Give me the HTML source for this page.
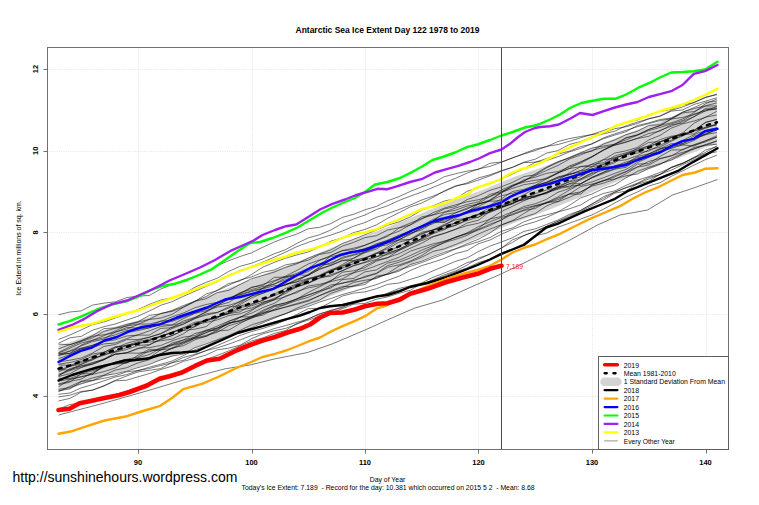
<!DOCTYPE html><html><head><meta charset="utf-8"><title>Antarctic Sea Ice Extent</title>
<style>html,body{margin:0;padding:0;background:#fff}svg{display:block}text{font-family:"Liberation Sans",sans-serif;fill:#000}</style></head><body>
<svg width="759" height="505" viewBox="0 0 759 505">
<rect width="100%" height="100%" fill="#fff"/>
<polygon points="58.5,345.4 69.9,342.3 81.2,338.2 92.6,334.2 104.0,330.3 115.3,326.7 126.7,323.5 138.0,320.4 149.3,317.0 160.7,313.4 172.1,309.7 183.4,305.7 194.8,301.3 206.1,296.8 217.4,292.2 228.8,287.9 240.1,283.7 251.5,279.3 262.9,274.8 274.2,270.6 285.5,266.4 296.9,262.0 308.2,257.5 319.6,253.0 330.9,248.1 342.3,243.6 353.6,239.5 365.0,235.4 376.4,231.3 387.7,227.1 399.1,222.6 410.4,218.0 421.8,213.2 433.1,208.4 444.4,203.7 455.8,199.5 467.1,195.6 478.5,191.4 489.8,186.9 501.2,182.2 512.5,177.6 523.9,173.6 535.2,169.8 546.6,165.7 558.0,161.3 569.3,157.0 580.6,152.5 592.0,147.8 603.3,143.0 614.7,138.4 626.0,134.1 637.4,129.7 648.8,125.6 660.1,121.5 671.4,117.0 682.8,112.8 694.1,108.5 705.5,103.7 716.9,100.5 716.9,144.1 705.5,147.4 694.1,152.2 682.8,156.5 671.4,160.7 660.1,165.3 648.8,169.4 637.4,173.6 626.0,178.0 614.7,182.4 603.3,187.0 592.0,192.0 580.6,196.9 569.3,201.6 558.0,206.2 546.6,210.7 535.2,215.1 523.9,219.2 512.5,223.4 501.2,228.1 489.8,233.1 478.5,237.8 467.1,242.2 455.8,246.4 444.4,250.8 433.1,255.6 421.8,260.4 410.4,265.3 399.1,269.9 387.7,274.5 376.4,278.8 365.0,283.0 353.6,287.2 342.3,291.4 330.9,296.0 319.6,300.9 308.2,305.5 296.9,309.8 285.5,314.2 274.2,318.3 262.9,322.4 251.5,326.8 240.1,331.1 228.8,335.2 217.4,339.4 206.1,343.8 194.8,348.3 183.4,352.6 172.1,356.5 160.7,360.2 149.3,363.8 138.0,367.1 126.7,370.2 115.3,373.3 104.0,376.9 92.6,380.8 81.2,384.7 69.9,388.8 58.5,391.8" fill="#d3d3d3" stroke="none"/>
<path d="M138.5 47.5V449.5 M252.5 47.5V449.5 M365.5 47.5V449.5 M478.5 47.5V449.5 M592.5 47.5V449.5 M706.5 47.5V449.5 M47.5 396.5H728.5 M47.5 314.5H728.5 M47.5 232.5H728.5 M47.5 151.5H728.5 M47.5 69.5H728.5" stroke="#d3d3d3" stroke-opacity="0.6" stroke-width="1" stroke-dasharray="1 1.3" fill="none"/>
<g fill="none" stroke="#000" stroke-opacity="0.75" stroke-width="0.7" stroke-linejoin="round">
<polyline points="58.5,314.8 69.9,312.0 81.2,310.9 92.6,305.1 104.0,303.1 115.3,301.8 126.7,297.6 138.0,296.1 149.3,295.5 160.7,289.1 172.1,284.6 183.4,280.4 194.8,276.3 206.1,271.9 217.4,265.7 228.8,260.7 240.1,256.5 251.5,252.8 262.9,247.2 274.2,242.0 285.5,237.7 296.9,234.1 308.2,228.8 319.6,227.3 330.9,223.6 342.3,217.4 353.6,214.3 365.0,209.8 376.4,206.4 387.7,200.7 399.1,196.6 410.4,191.4 421.8,186.8 433.1,182.7 444.4,176.7 455.8,173.7 467.1,171.1 478.5,169.4 489.8,163.3 501.2,162.0 512.5,157.8 523.9,154.0 535.2,150.5 546.6,146.4 558.0,144.5 569.3,141.3 580.6,137.8 592.0,134.4 603.3,130.6 614.7,126.6 626.0,122.3 637.4,120.0 648.8,114.8 660.1,111.5 671.4,109.4 682.8,105.0 694.1,102.6 705.5,97.5 716.9,94.1"/>
<polyline points="58.5,339.5 69.9,335.0 81.2,329.9 92.6,324.6 104.0,321.9 115.3,318.0 126.7,313.6 138.0,309.6 149.3,304.4 160.7,300.1 172.1,297.7 183.4,294.2 194.8,287.3 206.1,282.4 217.4,278.1 228.8,271.4 240.1,266.3 251.5,263.2 262.9,258.9 274.2,253.8 285.5,249.7 296.9,243.4 308.2,237.9 319.6,234.7 330.9,230.0 342.3,223.4 353.6,219.0 365.0,215.0 376.4,209.6 387.7,205.7 399.1,200.5 410.4,196.1 421.8,192.0 433.1,187.3 444.4,182.7 455.8,178.2 467.1,173.1 478.5,168.9 489.8,166.4 501.2,162.4 512.5,158.0 523.9,153.5 535.2,149.2 546.6,146.6 558.0,141.5 569.3,138.6 580.6,136.5 592.0,134.6 603.3,133.0 614.7,128.7 626.0,126.8 637.4,123.5 648.8,118.7 660.1,116.0 671.4,110.3 682.8,107.0 694.1,102.3 705.5,97.3 716.9,94.7"/>
<polyline points="58.5,343.3 69.9,337.8 81.2,336.4 92.6,330.2 104.0,326.7 115.3,324.0 126.7,320.1 138.0,316.2 149.3,311.0 160.7,305.3 172.1,301.7 183.4,296.3 194.8,291.3 206.1,286.4 217.4,281.7 228.8,275.6 240.1,270.5 251.5,266.7 262.9,262.0 274.2,257.2 285.5,252.1 296.9,246.6 308.2,242.4 319.6,238.5 330.9,235.0 342.3,231.1 353.6,226.2 365.0,222.5 376.4,217.3 387.7,213.7 399.1,209.5 410.4,205.0 421.8,200.0 433.1,196.1 444.4,191.4 455.8,186.3 467.1,182.9 478.5,177.9 489.8,174.9 501.2,170.7 512.5,167.3 523.9,162.2 535.2,159.2 546.6,153.1 558.0,150.6 569.3,144.5 580.6,141.5 592.0,137.0 603.3,133.9 614.7,131.2 626.0,125.8 637.4,122.1 648.8,118.9 660.1,116.2 671.4,111.1 682.8,109.9 694.1,104.4 705.5,101.2 716.9,97.7"/>
<polyline points="58.5,348.8 69.9,344.7 81.2,340.6 92.6,335.6 104.0,328.6 115.3,327.9 126.7,324.4 138.0,321.8 149.3,315.4 160.7,313.8 172.1,310.5 183.4,305.6 194.8,301.2 206.1,296.5 217.4,290.1 228.8,283.5 240.1,280.9 251.5,274.5 262.9,267.1 274.2,262.4 285.5,258.2 296.9,254.9 308.2,252.0 319.6,246.9 330.9,241.2 342.3,237.8 353.6,232.7 365.0,229.4 376.4,224.9 387.7,218.3 399.1,212.6 410.4,206.8 421.8,203.0 433.1,197.4 444.4,190.8 455.8,185.7 467.1,183.8 478.5,180.0 489.8,175.9 501.2,171.2 512.5,167.3 523.9,162.6 535.2,162.2 546.6,158.6 558.0,154.0 569.3,151.2 580.6,146.7 592.0,143.9 603.3,138.8 614.7,135.1 626.0,131.7 637.4,125.5 648.8,122.9 660.1,119.5 671.4,117.9 682.8,112.1 694.1,107.5 705.5,102.4 716.9,100.9"/>
<polyline points="58.5,353.2 69.9,348.3 81.2,343.0 92.6,340.3 104.0,335.6 115.3,330.9 126.7,325.5 138.0,322.2 149.3,319.3 160.7,313.4 172.1,311.4 183.4,307.1 194.8,301.3 206.1,298.7 217.4,292.6 228.8,290.3 240.1,284.5 251.5,278.7 262.9,275.4 274.2,272.1 285.5,267.4 296.9,263.8 308.2,258.1 319.6,253.7 330.9,249.9 342.3,243.5 353.6,239.3 365.0,234.8 376.4,230.0 387.7,225.2 399.1,221.8 410.4,216.9 421.8,210.1 433.1,205.9 444.4,201.0 455.8,198.8 467.1,191.3 478.5,187.4 489.8,183.4 501.2,179.1 512.5,174.0 523.9,168.7 535.2,162.3 546.6,160.4 558.0,156.7 569.3,151.9 580.6,148.4 592.0,143.8 603.3,137.9 614.7,133.8 626.0,130.4 637.4,126.7 648.8,123.6 660.1,120.5 671.4,118.8 682.8,112.1 694.1,108.5 705.5,105.8 716.9,102.9"/>
<polyline points="58.5,391.7 69.9,386.5 81.2,381.3 92.6,380.6 104.0,375.5 115.3,373.8 126.7,371.1 138.0,367.6 149.3,364.4 160.7,359.9 172.1,356.1 183.4,354.0 194.8,347.7 206.1,344.0 217.4,339.7 228.8,335.5 240.1,330.3 251.5,324.9 262.9,321.4 274.2,317.2 285.5,313.8 296.9,308.2 308.2,303.8 319.6,300.0 330.9,293.4 342.3,289.3 353.6,285.7 365.0,282.5 376.4,277.3 387.7,274.3 399.1,269.9 410.4,266.4 421.8,262.5 433.1,258.1 444.4,253.8 455.8,248.9 467.1,245.2 478.5,241.7 489.8,237.6 501.2,231.4 512.5,227.9 523.9,221.8 535.2,217.8 546.6,214.9 558.0,211.8 569.3,205.4 580.6,197.9 592.0,194.0 603.3,188.5 614.7,184.9 626.0,177.8 637.4,171.4 648.8,167.2 660.1,163.6 671.4,160.0 682.8,154.1 694.1,148.8 705.5,145.2 716.9,141.2"/>
<polyline points="58.5,394.3 69.9,393.0 81.2,387.9 92.6,384.6 104.0,380.8 115.3,377.0 126.7,374.6 138.0,370.7 149.3,367.2 160.7,364.3 172.1,361.0 183.4,355.6 194.8,349.8 206.1,345.8 217.4,340.3 228.8,336.0 240.1,331.5 251.5,327.6 262.9,322.8 274.2,318.2 285.5,313.6 296.9,309.7 308.2,306.4 319.6,302.0 330.9,298.5 342.3,294.5 353.6,291.4 365.0,288.1 376.4,284.6 387.7,280.3 399.1,276.2 410.4,270.5 421.8,265.6 433.1,262.2 444.4,258.4 455.8,253.5 467.1,250.7 478.5,243.7 489.8,240.1 501.2,234.4 512.5,229.3 523.9,225.1 535.2,221.8 546.6,217.5 558.0,212.1 569.3,208.8 580.6,205.0 592.0,198.1 603.3,193.5 614.7,190.9 626.0,185.4 637.4,180.3 648.8,176.6 660.1,172.4 671.4,167.7 682.8,163.4 694.1,157.1 705.5,152.4 716.9,145.9"/>
<polyline points="58.5,396.9 69.9,395.2 81.2,391.5 92.6,390.2 104.0,385.6 115.3,380.3 126.7,376.0 138.0,371.9 149.3,370.3 160.7,368.6 172.1,362.6 183.4,357.5 194.8,354.3 206.1,350.6 217.4,345.4 228.8,340.6 240.1,335.4 251.5,331.6 262.9,328.4 274.2,324.8 285.5,320.2 296.9,314.4 308.2,308.7 319.6,308.2 330.9,302.2 342.3,296.0 353.6,293.1 365.0,291.9 376.4,288.7 387.7,284.3 399.1,283.0 410.4,279.4 421.8,275.8 433.1,270.8 444.4,266.1 455.8,261.2 467.1,257.9 478.5,251.5 489.8,246.2 501.2,242.1 512.5,237.7 523.9,231.4 535.2,228.9 546.6,224.5 558.0,220.0 569.3,214.5 580.6,210.4 592.0,204.1 603.3,196.8 614.7,192.1 626.0,187.5 637.4,183.2 648.8,177.4 660.1,174.5 671.4,167.1 682.8,162.9 694.1,158.1 705.5,150.0 716.9,146.7"/>
<polyline points="58.5,401.0 69.9,398.4 81.2,392.2 92.6,390.0 104.0,386.1 115.3,380.8 126.7,380.2 138.0,376.8 149.3,373.6 160.7,369.5 172.1,366.2 183.4,361.4 194.8,358.3 206.1,355.0 217.4,349.8 228.8,348.1 240.1,345.2 251.5,338.7 262.9,333.8 274.2,330.8 285.5,328.4 296.9,324.2 308.2,318.8 319.6,314.3 330.9,310.2 342.3,307.8 353.6,301.5 365.0,299.9 376.4,297.3 387.7,293.1 399.1,288.4 410.4,285.9 421.8,282.9 433.1,277.3 444.4,272.9 455.8,268.5 467.1,262.6 478.5,259.5 489.8,254.0 501.2,248.3 512.5,239.8 523.9,235.6 535.2,231.3 546.6,226.3 558.0,221.3 569.3,217.2 580.6,211.4 592.0,205.6 603.3,200.2 614.7,193.2 626.0,191.0 637.4,183.6 648.8,179.0 660.1,174.5 671.4,167.5 682.8,163.4 694.1,157.8 705.5,153.8 716.9,149.2"/>
<polyline points="58.5,389.4 69.9,387.5 81.2,383.7 92.6,380.5 104.0,378.3 115.3,375.8 126.7,371.8 138.0,370.5 149.3,368.5 160.7,365.5 172.1,362.8 183.4,360.3 194.8,355.2 206.1,350.6 217.4,347.8 228.8,344.1 240.1,340.0 251.5,335.4 262.9,332.7 274.2,328.6 285.5,325.6 296.9,322.3 308.2,319.0 319.6,313.7 330.9,310.8 342.3,306.9 353.6,303.7 365.0,299.7 376.4,297.2 387.7,293.4 399.1,290.2 410.4,286.6 421.8,284.5 433.1,279.6 444.4,274.9 455.8,270.8 467.1,265.1 478.5,258.0 489.8,254.2 501.2,248.0 512.5,242.4 523.9,235.5 535.2,231.5 546.6,226.8 558.0,221.3 569.3,215.9 580.6,210.4 592.0,203.9 603.3,198.5 614.7,192.3 626.0,187.9 637.4,184.2 648.8,181.2 660.1,174.2 671.4,170.1 682.8,164.7 694.1,159.6 705.5,154.2 716.9,151.8"/>
<polyline points="58.5,409.1 69.9,404.5 81.2,403.1 92.6,400.5 104.0,398.4 115.3,394.6 126.7,391.0 138.0,387.7 149.3,383.3 160.7,380.5 172.1,376.0 183.4,369.9 194.8,365.2 206.1,359.5 217.4,355.4 228.8,350.9 240.1,345.8 251.5,341.0 262.9,337.9 274.2,333.5 285.5,330.5 296.9,323.5 308.2,320.2 319.6,316.1 330.9,312.8 342.3,308.8 353.6,304.2 365.0,303.4 376.4,299.3 387.7,296.8 399.1,293.3 410.4,290.1 421.8,283.4 433.1,280.5 444.4,276.1 455.8,271.8 467.1,267.9 478.5,262.6 489.8,259.3 501.2,253.1 512.5,248.8 523.9,243.7 535.2,235.9 546.6,233.1 558.0,227.2 569.3,223.2 580.6,219.1 592.0,214.9 603.3,209.3 614.7,203.0 626.0,197.0 637.4,192.0 648.8,186.0 660.1,182.7 671.4,176.3 682.8,170.8 694.1,165.0 705.5,159.6 716.9,155.2"/>
<polyline points="58.5,354.2 69.9,350.9 81.2,345.9 92.6,341.5 104.0,339.2 115.3,332.0 126.7,329.1 138.0,324.5 149.3,319.5 160.7,318.0 172.1,314.4 183.4,307.3 194.8,301.6 206.1,294.0 217.4,290.6 228.8,285.2 240.1,280.0 251.5,276.9 262.9,272.3 274.2,270.0 285.5,264.9 296.9,262.9 308.2,260.2 319.6,254.4 330.9,252.4 342.3,246.1 353.6,242.4 365.0,237.6 376.4,235.7 387.7,230.0 399.1,227.7 410.4,223.1 421.8,218.4 433.1,215.0 444.4,212.0 455.8,207.9 467.1,204.4 478.5,201.8 489.8,194.5 501.2,191.6 512.5,186.7 523.9,179.8 535.2,177.2 546.6,173.3 558.0,171.6 569.3,166.9 580.6,163.3 592.0,157.0 603.3,149.9 614.7,144.0 626.0,139.9 637.4,135.3 648.8,130.7 660.1,127.4 671.4,123.9 682.8,120.4 694.1,114.0 705.5,110.8 716.9,108.6"/>
<polyline points="58.5,344.2 69.9,344.7 81.2,341.0 92.6,336.4 104.0,334.7 115.3,332.5 126.7,327.5 138.0,328.2 149.3,325.8 160.7,321.0 172.1,320.5 183.4,316.2 194.8,311.5 206.1,308.2 217.4,302.3 228.8,299.4 240.1,293.5 251.5,287.2 262.9,285.5 274.2,277.4 285.5,277.0 296.9,273.3 308.2,268.3 319.6,265.5 330.9,255.6 342.3,250.8 353.6,249.6 365.0,245.2 376.4,240.5 387.7,235.2 399.1,231.2 410.4,224.7 421.8,216.9 433.1,214.7 444.4,208.9 455.8,206.5 467.1,199.6 478.5,195.6 489.8,190.4 501.2,186.9 512.5,182.4 523.9,176.6 535.2,174.8 546.6,167.8 558.0,162.4 569.3,157.5 580.6,152.7 592.0,148.1 603.3,146.0 614.7,144.2 626.0,137.6 637.4,135.1 648.8,129.5 660.1,125.4 671.4,122.8 682.8,118.9 694.1,112.5 705.5,103.7 716.9,99.0"/>
<polyline points="58.5,352.6 69.9,346.7 81.2,341.6 92.6,337.9 104.0,331.3 115.3,328.4 126.7,326.1 138.0,324.1 149.3,324.0 160.7,321.5 172.1,316.8 183.4,313.0 194.8,307.8 206.1,304.5 217.4,302.3 228.8,297.7 240.1,294.6 251.5,290.7 262.9,288.2 274.2,281.5 285.5,276.7 296.9,275.3 308.2,268.8 319.6,260.4 330.9,255.5 342.3,250.5 353.6,248.2 365.0,245.3 376.4,240.8 387.7,236.3 399.1,228.0 410.4,225.0 421.8,219.0 433.1,212.6 444.4,208.1 455.8,204.8 467.1,201.8 478.5,199.7 489.8,196.6 501.2,192.3 512.5,185.6 523.9,182.2 535.2,180.2 546.6,178.7 558.0,173.4 569.3,166.0 580.6,161.8 592.0,156.7 603.3,150.4 614.7,144.5 626.0,138.1 637.4,134.7 648.8,129.4 660.1,125.8 671.4,118.8 682.8,112.9 694.1,111.5 705.5,106.1 716.9,105.9"/>
<polyline points="58.5,355.3 69.9,353.3 81.2,348.8 92.6,345.3 104.0,340.7 115.3,337.0 126.7,332.6 138.0,330.5 149.3,327.9 160.7,323.8 172.1,321.4 183.4,317.2 194.8,313.2 206.1,309.1 217.4,305.5 228.8,298.8 240.1,292.6 251.5,289.5 262.9,286.6 274.2,284.0 285.5,279.8 296.9,275.5 308.2,271.6 319.6,264.5 330.9,264.1 342.3,257.2 353.6,254.5 365.0,250.5 376.4,244.7 387.7,240.1 399.1,235.2 410.4,230.8 421.8,226.6 433.1,221.7 444.4,220.1 455.8,216.0 467.1,211.4 478.5,206.4 489.8,200.5 501.2,193.1 512.5,186.0 523.9,181.3 535.2,173.9 546.6,167.1 558.0,161.6 569.3,158.0 580.6,153.4 592.0,151.1 603.3,144.1 614.7,140.1 626.0,134.7 637.4,131.3 648.8,125.4 660.1,124.8 671.4,119.0 682.8,117.4 694.1,114.7 705.5,109.7 716.9,109.1"/>
<polyline points="58.5,353.9 69.9,353.4 81.2,345.1 92.6,340.3 104.0,337.8 115.3,334.8 126.7,330.5 138.0,329.1 149.3,327.6 160.7,324.7 172.1,324.9 183.4,318.6 194.8,313.4 206.1,310.7 217.4,307.0 228.8,305.3 240.1,301.9 251.5,295.9 262.9,288.1 274.2,284.1 285.5,278.0 296.9,274.7 308.2,275.4 319.6,268.7 330.9,265.4 342.3,260.8 353.6,258.2 365.0,251.4 376.4,246.6 387.7,244.8 399.1,239.4 410.4,234.4 421.8,227.8 433.1,223.7 444.4,218.6 455.8,212.8 467.1,209.1 478.5,203.2 489.8,196.6 501.2,190.0 512.5,185.1 523.9,180.8 535.2,175.6 546.6,170.4 558.0,165.4 569.3,159.1 580.6,154.9 592.0,150.5 603.3,147.5 614.7,145.2 626.0,142.4 637.4,138.2 648.8,133.5 660.1,131.0 671.4,124.8 682.8,123.1 694.1,116.6 705.5,110.9 716.9,106.4"/>
<polyline points="58.5,355.6 69.9,351.2 81.2,348.1 92.6,345.2 104.0,341.4 115.3,339.8 126.7,336.0 138.0,335.1 149.3,335.1 160.7,328.4 172.1,327.7 183.4,321.0 194.8,317.5 206.1,311.6 217.4,305.0 228.8,299.2 240.1,293.4 251.5,287.7 262.9,284.3 274.2,280.7 285.5,276.2 296.9,270.4 308.2,264.0 319.6,259.9 330.9,256.6 342.3,254.2 353.6,251.9 365.0,248.3 376.4,245.7 387.7,243.2 399.1,239.9 410.4,233.3 421.8,229.8 433.1,222.6 444.4,221.9 455.8,216.0 467.1,213.4 478.5,210.4 489.8,205.2 501.2,199.0 512.5,191.5 523.9,189.3 535.2,185.3 546.6,178.9 558.0,172.7 569.3,168.6 580.6,162.2 592.0,156.5 603.3,150.1 614.7,145.1 626.0,141.7 637.4,138.5 648.8,136.3 660.1,130.3 671.4,126.2 682.8,121.4 694.1,116.7 705.5,108.4 716.9,108.0"/>
<polyline points="58.5,358.7 69.9,354.5 81.2,348.5 92.6,347.2 104.0,343.9 115.3,343.0 126.7,338.6 138.0,334.8 149.3,330.9 160.7,326.4 172.1,325.2 183.4,322.6 194.8,317.7 206.1,312.2 217.4,305.5 228.8,302.4 240.1,295.0 251.5,291.6 262.9,288.8 274.2,285.8 285.5,284.9 296.9,281.9 308.2,278.5 319.6,276.1 330.9,271.2 342.3,264.5 353.6,258.3 365.0,252.7 376.4,249.0 387.7,242.1 399.1,236.7 410.4,233.5 421.8,228.3 433.1,221.1 444.4,212.4 455.8,210.1 467.1,206.1 478.5,204.1 489.8,200.8 501.2,195.8 512.5,193.2 523.9,190.4 535.2,185.7 546.6,182.7 558.0,178.3 569.3,174.8 580.6,170.5 592.0,164.0 603.3,159.7 614.7,153.1 626.0,150.8 637.4,147.4 648.8,139.9 660.1,135.4 671.4,128.1 682.8,123.8 694.1,121.0 705.5,117.3 716.9,111.3"/>
<polyline points="58.5,364.2 69.9,362.5 81.2,359.6 92.6,354.1 104.0,352.1 115.3,347.0 126.7,345.9 138.0,343.1 149.3,340.6 160.7,336.1 172.1,332.8 183.4,327.8 194.8,326.9 206.1,320.7 217.4,318.0 228.8,310.7 240.1,303.1 251.5,296.1 262.9,293.3 274.2,289.3 285.5,283.9 296.9,281.9 308.2,274.2 319.6,267.9 330.9,259.6 342.3,255.4 353.6,252.0 365.0,249.0 376.4,243.7 387.7,240.6 399.1,235.7 410.4,230.9 421.8,225.6 433.1,219.4 444.4,214.5 455.8,212.6 467.1,208.1 478.5,204.2 489.8,200.0 501.2,192.5 512.5,188.4 523.9,184.7 535.2,182.9 546.6,177.9 558.0,172.8 569.3,168.6 580.6,166.6 592.0,164.7 603.3,162.7 614.7,156.0 626.0,152.8 637.4,149.0 648.8,146.3 660.1,142.0 671.4,137.0 682.8,133.8 694.1,130.6 705.5,122.2 716.9,119.6"/>
<polyline points="58.5,370.4 69.9,366.1 81.2,362.5 92.6,359.6 104.0,353.8 115.3,348.0 126.7,343.3 138.0,340.3 149.3,337.3 160.7,333.6 172.1,327.1 183.4,324.1 194.8,318.8 206.1,313.9 217.4,312.3 228.8,308.1 240.1,301.1 251.5,296.0 262.9,291.3 274.2,288.6 285.5,284.9 296.9,280.1 308.2,275.2 319.6,266.6 330.9,262.7 342.3,258.4 353.6,255.2 365.0,252.1 376.4,247.5 387.7,240.9 399.1,237.6 410.4,231.4 421.8,226.0 433.1,221.4 444.4,222.4 455.8,216.9 467.1,211.9 478.5,207.6 489.8,205.9 501.2,203.1 512.5,195.0 523.9,191.1 535.2,185.5 546.6,182.2 558.0,176.9 569.3,174.1 580.6,172.2 592.0,166.9 603.3,164.0 614.7,157.8 626.0,154.4 637.4,148.6 648.8,142.4 660.1,141.7 671.4,137.7 682.8,134.6 694.1,133.8 705.5,127.1 716.9,124.3"/>
<polyline points="58.5,361.9 69.9,360.2 81.2,358.0 92.6,353.0 104.0,346.4 115.3,344.5 126.7,339.6 138.0,339.6 149.3,337.1 160.7,333.8 172.1,328.6 183.4,324.2 194.8,318.2 206.1,315.2 217.4,312.6 228.8,306.8 240.1,305.8 251.5,303.9 262.9,300.5 274.2,294.0 285.5,288.5 296.9,283.8 308.2,279.0 319.6,275.2 330.9,269.7 342.3,265.7 353.6,260.8 365.0,258.3 376.4,252.8 387.7,248.7 399.1,242.1 410.4,239.3 421.8,232.2 433.1,230.0 444.4,224.4 455.8,219.7 467.1,218.3 478.5,214.5 489.8,207.3 501.2,206.1 512.5,200.2 523.9,194.7 535.2,188.4 546.6,183.4 558.0,180.2 569.3,172.9 580.6,166.7 592.0,166.6 603.3,159.9 614.7,157.9 626.0,154.6 637.4,150.9 648.8,147.5 660.1,141.9 671.4,137.5 682.8,132.7 694.1,123.2 705.5,117.1 716.9,115.0"/>
<polyline points="58.5,364.9 69.9,365.4 81.2,361.4 92.6,356.1 104.0,352.4 115.3,346.9 126.7,345.5 138.0,341.7 149.3,339.2 160.7,336.2 172.1,332.6 183.4,327.6 194.8,322.3 206.1,320.3 217.4,316.8 228.8,313.5 240.1,307.2 251.5,305.8 262.9,302.0 274.2,299.4 285.5,291.4 296.9,287.0 308.2,283.0 319.6,277.7 330.9,276.1 342.3,270.7 353.6,265.9 365.0,262.5 376.4,259.5 387.7,253.6 399.1,249.3 410.4,243.5 421.8,238.5 433.1,230.4 444.4,225.7 455.8,218.0 467.1,212.2 478.5,203.8 489.8,201.3 501.2,200.7 512.5,195.1 523.9,191.3 535.2,186.5 546.6,182.2 558.0,177.4 569.3,174.4 580.6,170.7 592.0,169.0 603.3,164.7 614.7,158.9 626.0,153.7 637.4,150.5 648.8,145.5 660.1,139.5 671.4,136.2 682.8,135.1 694.1,130.2 705.5,122.7 716.9,119.2"/>
<polyline points="58.5,369.8 69.9,369.9 81.2,364.3 92.6,359.8 104.0,354.2 115.3,352.2 126.7,349.5 138.0,345.5 149.3,344.6 160.7,339.8 172.1,335.6 183.4,330.5 194.8,329.2 206.1,326.6 217.4,317.7 228.8,312.3 240.1,304.6 251.5,298.0 262.9,293.1 274.2,288.1 285.5,284.9 296.9,279.2 308.2,275.2 319.6,269.5 330.9,265.2 342.3,260.2 353.6,260.6 365.0,257.6 376.4,253.5 387.7,252.9 399.1,249.4 410.4,243.2 421.8,239.5 433.1,233.7 444.4,229.6 455.8,222.3 467.1,217.5 478.5,217.3 489.8,209.8 501.2,206.9 512.5,201.6 523.9,200.1 535.2,196.7 546.6,192.9 558.0,185.9 569.3,182.0 580.6,178.9 592.0,172.7 603.3,167.0 614.7,162.8 626.0,154.9 637.4,153.0 648.8,151.1 660.1,145.3 671.4,140.2 682.8,135.0 694.1,131.1 705.5,128.4 716.9,123.7"/>
<polyline points="58.5,371.9 69.9,366.2 81.2,364.3 92.6,358.3 104.0,355.4 115.3,351.2 126.7,344.9 138.0,343.9 149.3,340.3 160.7,336.7 172.1,331.8 183.4,329.1 194.8,323.6 206.1,320.6 217.4,316.7 228.8,313.7 240.1,311.9 251.5,304.7 262.9,300.0 274.2,295.7 285.5,291.1 296.9,284.3 308.2,283.3 319.6,275.9 330.9,270.5 342.3,268.1 353.6,263.7 365.0,258.7 376.4,253.5 387.7,247.1 399.1,240.0 410.4,239.4 421.8,234.2 433.1,229.9 444.4,225.5 455.8,223.1 467.1,218.1 478.5,213.9 489.8,210.4 501.2,207.0 512.5,203.9 523.9,197.9 535.2,195.6 546.6,193.6 558.0,187.6 569.3,181.3 580.6,176.6 592.0,170.5 603.3,166.3 614.7,161.2 626.0,159.8 637.4,155.7 648.8,149.8 660.1,147.1 671.4,141.1 682.8,135.7 694.1,130.6 705.5,127.5 716.9,125.0"/>
<polyline points="58.5,376.5 69.9,373.6 81.2,367.6 92.6,364.1 104.0,359.5 115.3,354.1 126.7,352.7 138.0,348.8 149.3,345.0 160.7,339.0 172.1,335.5 183.4,330.4 194.8,324.2 206.1,322.5 217.4,319.8 228.8,315.5 240.1,313.8 251.5,309.6 262.9,304.6 274.2,299.9 285.5,292.0 296.9,285.5 308.2,279.5 319.6,276.0 330.9,270.8 342.3,266.5 353.6,261.7 365.0,259.9 376.4,256.8 387.7,251.7 399.1,246.3 410.4,239.6 421.8,233.4 433.1,229.9 444.4,229.1 455.8,225.0 467.1,220.6 478.5,217.0 489.8,211.6 501.2,208.0 512.5,203.6 523.9,197.2 535.2,196.2 546.6,192.7 558.0,189.2 569.3,186.0 580.6,185.4 592.0,181.9 603.3,177.8 614.7,173.4 626.0,169.4 637.4,162.4 648.8,157.4 660.1,151.2 671.4,145.7 682.8,141.4 694.1,138.9 705.5,134.1 716.9,129.9"/>
<polyline points="58.5,374.4 69.9,369.8 81.2,366.0 92.6,364.3 104.0,359.8 115.3,351.8 126.7,347.6 138.0,343.1 149.3,342.1 160.7,340.8 172.1,339.1 183.4,333.8 194.8,326.0 206.1,319.5 217.4,316.9 228.8,313.4 240.1,309.9 251.5,308.0 262.9,303.6 274.2,299.8 285.5,296.8 296.9,291.4 308.2,287.9 319.6,285.7 330.9,280.3 342.3,275.7 353.6,272.7 365.0,265.7 376.4,260.2 387.7,257.7 399.1,250.1 410.4,245.3 421.8,238.3 433.1,232.8 444.4,227.9 455.8,225.4 467.1,219.3 478.5,214.9 489.8,212.5 501.2,207.5 512.5,203.0 523.9,199.0 535.2,197.2 546.6,192.4 558.0,186.6 569.3,187.2 580.6,179.0 592.0,173.6 603.3,170.2 614.7,167.5 626.0,163.5 637.4,156.5 648.8,153.8 660.1,148.7 671.4,146.6 682.8,140.4 694.1,134.6 705.5,130.5 716.9,127.7"/>
<polyline points="58.5,376.0 69.9,368.6 81.2,365.8 92.6,362.5 104.0,359.6 115.3,354.2 126.7,352.9 138.0,348.1 149.3,347.6 160.7,345.5 172.1,340.8 183.4,337.1 194.8,335.6 206.1,330.0 217.4,328.0 228.8,321.4 240.1,317.4 251.5,310.8 262.9,302.7 274.2,298.4 285.5,293.5 296.9,286.6 308.2,283.3 319.6,278.2 330.9,274.7 342.3,270.7 353.6,265.4 365.0,262.2 376.4,256.7 387.7,254.5 399.1,250.7 410.4,244.7 421.8,240.6 433.1,236.4 444.4,233.2 455.8,229.2 467.1,225.6 478.5,223.2 489.8,219.3 501.2,211.7 512.5,206.2 523.9,200.8 535.2,196.0 546.6,192.2 558.0,188.5 569.3,183.9 580.6,183.6 592.0,177.9 603.3,173.6 614.7,169.1 626.0,167.3 637.4,159.5 648.8,156.0 660.1,149.4 671.4,145.6 682.8,144.8 694.1,140.5 705.5,133.4 716.9,129.7"/>
<polyline points="58.5,378.3 69.9,378.5 81.2,374.2 92.6,370.6 104.0,367.6 115.3,362.2 126.7,362.6 138.0,358.7 149.3,357.8 160.7,349.7 172.1,348.7 183.4,343.8 194.8,338.4 206.1,336.5 217.4,331.0 228.8,330.1 240.1,323.5 251.5,317.5 262.9,315.1 274.2,309.3 285.5,304.2 296.9,299.0 308.2,292.5 319.6,286.8 330.9,281.0 342.3,272.2 353.6,270.8 365.0,267.6 376.4,261.2 387.7,257.7 399.1,253.6 410.4,248.2 421.8,243.2 433.1,236.9 444.4,233.4 455.8,229.3 467.1,223.0 478.5,220.2 489.8,211.6 501.2,207.0 512.5,203.3 523.9,198.9 535.2,193.7 546.6,190.0 558.0,187.8 569.3,183.8 580.6,179.9 592.0,175.2 603.3,167.5 614.7,166.3 626.0,162.0 637.4,159.0 648.8,154.1 660.1,148.6 671.4,143.7 682.8,143.6 694.1,135.9 705.5,134.6 716.9,132.5"/>
<polyline points="58.5,375.3 69.9,370.7 81.2,367.2 92.6,363.2 104.0,358.8 115.3,354.3 126.7,353.0 138.0,353.2 149.3,351.9 160.7,348.0 172.1,344.8 183.4,341.6 194.8,337.2 206.1,332.9 217.4,328.4 228.8,324.1 240.1,317.2 251.5,313.2 262.9,307.6 274.2,303.4 285.5,296.0 296.9,292.7 308.2,286.0 319.6,284.3 330.9,281.6 342.3,278.9 353.6,272.8 365.0,269.8 376.4,265.7 387.7,261.4 399.1,257.2 410.4,251.2 421.8,247.4 433.1,243.9 444.4,241.2 455.8,237.6 467.1,233.3 478.5,228.6 489.8,219.0 501.2,216.5 512.5,211.8 523.9,208.1 535.2,205.7 546.6,202.4 558.0,196.9 569.3,190.1 580.6,183.9 592.0,177.3 603.3,172.6 614.7,165.6 626.0,163.7 637.4,160.7 648.8,153.7 660.1,152.7 671.4,147.8 682.8,143.6 694.1,138.9 705.5,134.9 716.9,128.4"/>
<polyline points="58.5,381.1 69.9,379.1 81.2,377.0 92.6,374.0 104.0,365.4 115.3,364.2 126.7,362.9 138.0,355.2 149.3,349.2 160.7,349.9 172.1,343.0 183.4,340.1 194.8,333.5 206.1,330.8 217.4,326.0 228.8,321.1 240.1,316.9 251.5,316.8 262.9,310.3 274.2,305.6 285.5,303.0 296.9,298.8 308.2,295.0 319.6,290.8 330.9,284.9 342.3,283.4 353.6,280.1 365.0,277.3 376.4,273.7 387.7,267.2 399.1,264.9 410.4,261.0 421.8,255.5 433.1,247.9 444.4,242.6 455.8,236.9 467.1,233.8 478.5,230.0 489.8,225.6 501.2,219.8 512.5,212.1 523.9,206.5 535.2,203.8 546.6,199.3 558.0,192.2 569.3,188.5 580.6,183.9 592.0,177.5 603.3,172.3 614.7,168.9 626.0,164.3 637.4,157.6 648.8,156.5 660.1,151.2 671.4,148.4 682.8,144.9 694.1,146.0 705.5,140.9 716.9,135.7"/>
<polyline points="58.5,383.8 69.9,381.3 81.2,379.2 92.6,372.4 104.0,366.3 115.3,363.4 126.7,362.7 138.0,357.8 149.3,354.5 160.7,348.3 172.1,344.4 183.4,339.8 194.8,337.1 206.1,330.9 217.4,330.2 228.8,323.2 240.1,321.0 251.5,316.7 262.9,313.8 274.2,306.8 285.5,304.5 296.9,300.5 308.2,297.3 319.6,292.2 330.9,286.6 342.3,283.0 353.6,281.2 365.0,276.3 376.4,273.2 387.7,265.6 399.1,262.2 410.4,258.0 421.8,252.6 433.1,247.3 444.4,242.5 455.8,239.3 467.1,235.3 478.5,229.3 489.8,224.2 501.2,220.3 512.5,213.9 523.9,210.0 535.2,205.8 546.6,203.1 558.0,199.6 569.3,194.1 580.6,194.2 592.0,184.6 603.3,181.1 614.7,175.7 626.0,171.7 637.4,164.1 648.8,163.6 660.1,156.4 671.4,150.0 682.8,149.8 694.1,145.0 705.5,141.9 716.9,137.2"/>
<polyline points="58.5,390.7 69.9,388.9 81.2,381.7 92.6,377.9 104.0,375.1 115.3,370.1 126.7,367.7 138.0,362.9 149.3,359.7 160.7,353.7 172.1,348.1 183.4,342.2 194.8,337.9 206.1,332.4 217.4,327.9 228.8,323.4 240.1,320.3 251.5,317.8 262.9,311.5 274.2,305.5 285.5,302.8 296.9,299.2 308.2,295.1 319.6,291.0 330.9,288.0 342.3,279.7 353.6,278.4 365.0,271.9 376.4,269.9 387.7,263.1 399.1,260.3 410.4,255.5 421.8,250.1 433.1,245.6 444.4,241.3 455.8,237.2 467.1,232.8 478.5,226.7 489.8,221.8 501.2,217.5 512.5,214.9 523.9,210.5 535.2,208.5 546.6,202.2 558.0,201.8 569.3,197.3 580.6,192.2 592.0,185.4 603.3,180.5 614.7,178.9 626.0,175.8 637.4,174.0 648.8,168.4 660.1,164.3 671.4,158.3 682.8,153.5 694.1,147.4 705.5,145.2 716.9,144.3"/>
<polyline points="58.5,384.7 69.9,382.2 81.2,373.8 92.6,373.8 104.0,366.5 115.3,362.3 126.7,359.3 138.0,357.0 149.3,350.7 160.7,350.2 172.1,345.4 183.4,342.9 194.8,338.2 206.1,335.3 217.4,332.3 228.8,325.7 240.1,322.4 251.5,318.3 262.9,313.4 274.2,310.5 285.5,306.9 296.9,303.5 308.2,300.3 319.6,295.7 330.9,291.3 342.3,287.8 353.6,282.4 365.0,280.2 376.4,278.5 387.7,273.4 399.1,266.1 410.4,261.9 421.8,257.2 433.1,251.4 444.4,248.8 455.8,244.4 467.1,239.7 478.5,234.0 489.8,229.1 501.2,224.9 512.5,220.6 523.9,213.5 535.2,206.9 546.6,203.0 558.0,198.1 569.3,194.1 580.6,186.7 592.0,184.1 603.3,180.6 614.7,176.9 626.0,171.7 637.4,167.0 648.8,161.4 660.1,158.4 671.4,156.0 682.8,149.3 694.1,144.6 705.5,140.7 716.9,137.1"/>
<polyline points="58.5,386.7 69.9,379.6 81.2,376.5 92.6,374.4 104.0,371.6 115.3,368.0 126.7,362.0 138.0,360.3 149.3,357.3 160.7,354.0 172.1,347.9 183.4,345.7 194.8,339.9 206.1,336.1 217.4,329.7 228.8,322.6 240.1,321.0 251.5,316.2 262.9,312.5 274.2,310.0 285.5,307.2 296.9,304.3 308.2,301.2 319.6,295.5 330.9,290.5 342.3,286.6 353.6,286.4 365.0,284.5 376.4,276.2 387.7,274.3 399.1,271.2 410.4,264.5 421.8,261.2 433.1,256.3 444.4,252.2 455.8,248.6 467.1,243.7 478.5,239.2 489.8,233.1 501.2,225.1 512.5,221.1 523.9,217.2 535.2,213.5 546.6,205.9 558.0,201.3 569.3,193.9 580.6,191.9 592.0,186.1 603.3,183.2 614.7,179.4 626.0,173.7 637.4,167.1 648.8,165.0 660.1,158.9 671.4,155.6 682.8,152.3 694.1,148.9 705.5,144.5 716.9,140.8"/>
<polyline points="58.5,415.0 104.5,403.0 150.0,390.0 190.0,378.0 225.0,368.8 250.0,365.0 275.0,358.8 307.5,352.5 332.5,343.8 365.0,330.0 390.0,318.8 414.8,308.0 442.5,300.0 470.0,287.5 501.5,273.8 525.0,262.5 545.0,252.5 570.0,240.0 597.5,225.0 620.0,215.0 647.5,210.0 672.5,195.0 695.0,187.5 717.5,179.5"/>
</g>
<polyline points="58.5,368.6 69.9,365.5 81.2,361.4 92.6,357.5 104.0,353.6 115.3,350.0 126.7,346.9 138.0,343.8 149.3,340.4 160.7,336.8 172.1,333.1 183.4,329.1 194.8,324.8 206.1,320.3 217.4,315.8 228.8,311.5 240.1,307.4 251.5,303.0 262.9,298.6 274.2,294.5 285.5,290.3 296.9,285.9 308.2,281.5 319.6,277.0 330.9,272.1 342.3,267.5 353.6,263.4 365.0,259.2 376.4,255.0 387.7,250.8 399.1,246.3 410.4,241.6 421.8,236.8 433.1,232.0 444.4,227.3 455.8,222.9 467.1,218.9 478.5,214.6 489.8,210.0 501.2,205.2 512.5,200.5 523.9,196.4 535.2,192.4 546.6,188.2 558.0,183.8 569.3,179.3 580.6,174.7 592.0,169.9 603.3,165.0 614.7,160.4 626.0,156.1 637.4,151.6 648.8,147.5 660.1,143.4 671.4,138.9 682.8,134.6 694.1,130.3 705.5,125.5 716.9,122.3" fill="none" stroke="#000" stroke-width="2.5" stroke-linejoin="round" stroke-linecap="round" stroke-dasharray="3.2 5.8" stroke-linecap="butt"/>
<polyline points="58.5,380.5 72.0,375.0 84.5,371.2 97.0,367.5 112.0,363.8 124.5,360.5 134.5,360.0 147.0,358.8 159.5,355.0 172.0,353.0 182.0,352.5 197.0,351.2 209.5,345.5 222.0,340.0 237.5,333.0 250.0,329.5 262.5,326.2 275.0,322.5 287.5,318.8 300.0,315.5 310.0,312.0 320.0,308.0 330.0,306.2 342.5,305.0 355.0,302.0 365.0,299.5 377.5,296.2 387.5,295.0 400.0,291.2 410.0,287.0 427.5,283.0 445.0,277.5 462.5,270.8 477.5,265.0 490.0,259.5 501.5,253.8 512.5,249.5 523.8,245.0 535.0,236.2 546.2,227.5 557.5,223.8 570.0,218.0 585.0,211.2 600.0,205.0 615.0,198.8 627.5,191.2 640.0,186.2 652.5,181.2 665.0,176.2 677.5,171.2 690.0,163.8 705.0,155.5 717.5,148.2" fill="none" stroke="#000" stroke-width="2.4" stroke-linejoin="round" stroke-linecap="round" />
<polyline points="58.5,433.8 72.0,431.2 87.0,426.2 104.5,420.5 127.0,416.2 139.5,412.0 159.5,406.2 172.0,398.0 183.2,389.2 202.0,383.8 217.0,377.5 237.5,367.5 250.0,362.5 262.5,357.0 275.0,353.8 287.5,350.0 300.0,345.0 310.0,340.8 320.0,337.5 330.0,332.0 342.5,326.2 355.0,320.8 365.0,316.2 377.5,308.0 385.0,306.2 400.0,298.0 414.0,292.0 427.5,286.2 445.0,279.5 462.5,273.8 477.5,270.0 490.0,265.8 501.5,259.5 512.5,252.5 525.0,247.5 535.0,244.5 547.5,238.8 560.0,233.8 572.5,227.5 590.0,218.8 605.0,212.5 620.0,206.2 632.5,198.8 645.0,192.5 657.5,187.5 670.0,181.2 682.5,175.0 695.0,172.5 705.0,168.8 717.5,168.2" fill="none" stroke="#ffa500" stroke-width="2.4" stroke-linejoin="round" stroke-linecap="round" />
<polyline points="58.5,362.0 69.5,356.2 80.8,350.8 92.0,347.5 104.5,340.5 117.0,337.0 129.5,331.2 142.0,327.0 159.5,324.5 177.0,317.5 192.0,312.5 207.0,307.5 225.0,299.5 240.0,297.0 257.5,292.5 272.5,289.2 285.0,282.0 297.5,275.0 310.0,268.2 325.0,262.5 340.0,255.0 350.0,252.5 365.0,250.0 377.5,245.5 389.8,241.2 400.0,236.5 412.0,230.5 425.0,225.0 435.0,220.5 447.5,217.5 460.0,215.0 470.0,211.2 480.0,208.8 490.0,206.2 501.5,202.5 510.0,197.0 520.0,192.5 530.0,188.8 540.0,186.2 550.0,183.8 559.8,180.5 577.5,175.0 592.5,170.0 603.8,168.8 615.0,167.0 626.2,165.0 637.5,160.0 648.8,156.2 660.0,152.5 671.2,146.2 682.5,141.2 693.8,138.8 705.0,131.2 717.5,128.8" fill="none" stroke="#0000ff" stroke-width="2.4" stroke-linejoin="round" stroke-linecap="round" />
<polyline points="58.5,324.5 69.5,321.2 82.0,316.2 97.0,309.5 112.0,304.5 127.0,301.2 139.5,296.2 152.0,289.5 162.0,286.2 174.5,283.8 187.0,280.0 200.0,274.5 212.5,268.8 225.0,260.0 237.5,251.2 250.0,243.0 260.0,242.0 272.5,238.0 285.0,233.2 297.5,227.5 310.0,220.0 322.5,212.5 332.5,207.5 345.0,202.0 355.0,198.0 365.0,192.0 375.0,184.5 387.5,182.0 400.0,178.0 412.5,171.8 422.5,166.2 432.5,160.0 442.5,157.0 455.0,152.5 467.5,146.8 477.5,144.5 490.0,140.0 501.5,135.5 512.5,132.0 525.0,127.5 535.0,125.5 540.0,123.8 550.0,119.5 560.0,114.5 570.0,108.0 581.2,103.0 592.5,100.8 603.8,98.8 615.0,98.8 626.2,94.5 637.5,88.2 648.8,83.2 660.0,77.5 671.2,72.5 682.5,72.0 693.8,71.2 705.0,69.5 717.5,61.8" fill="none" stroke="#00ff00" stroke-width="2.4" stroke-linejoin="round" stroke-linecap="round" />
<polyline points="58.5,330.0 72.0,325.0 84.5,318.8 97.0,311.2 112.0,304.2 127.0,300.5 139.5,295.0 152.0,289.5 162.0,284.5 169.5,280.5 185.0,274.0 200.0,267.5 215.0,260.0 230.0,251.2 242.5,245.5 252.5,241.2 262.5,235.0 275.0,230.0 286.2,226.2 296.2,224.5 307.5,217.5 320.0,209.5 332.5,203.8 345.0,199.5 355.0,195.5 365.0,192.5 370.0,191.2 377.5,188.8 387.5,189.2 397.5,186.2 410.0,182.0 422.5,178.8 435.0,172.5 447.5,168.8 457.5,166.2 470.0,162.0 480.0,158.0 490.0,153.2 501.5,149.5 510.0,143.8 517.5,137.5 525.0,132.0 535.0,128.0 540.0,127.0 550.0,126.2 558.8,124.5 570.0,118.8 580.0,113.0 592.5,115.0 603.8,111.2 615.0,107.5 626.2,104.5 637.5,102.0 648.8,97.0 660.0,94.2 671.2,91.2 682.5,85.0 693.8,73.8 705.0,71.2 717.5,65.0" fill="none" stroke="#a020f0" stroke-width="2.4" stroke-linejoin="round" stroke-linecap="round" />
<polyline points="58.5,331.8 72.0,327.5 92.0,323.8 112.0,317.5 129.5,312.5 139.5,310.0 152.0,305.0 172.0,298.0 187.0,292.5 200.0,287.5 215.0,282.0 230.0,275.0 250.0,267.5 265.0,262.5 282.5,257.5 297.5,252.5 312.5,248.8 330.0,243.0 345.0,237.0 355.0,233.8 365.0,232.5 377.5,228.8 385.0,225.0 397.5,220.0 410.0,214.5 422.5,208.8 435.0,206.2 447.5,202.0 457.5,197.5 467.5,194.5 475.0,188.2 482.5,185.8 492.5,182.5 501.5,178.8 510.0,173.8 520.0,169.5 530.0,166.8 540.0,163.0 550.0,158.0 560.0,152.0 572.5,146.2 585.0,140.5 597.5,135.0 607.5,130.5 615.0,126.2 626.2,122.5 637.5,118.8 648.8,115.5 660.0,111.2 671.2,108.0 682.5,104.5 693.8,100.0 705.0,95.0 717.5,88.8" fill="none" stroke="#ffff00" stroke-width="2.4" stroke-linejoin="round" stroke-linecap="round" />
<polyline points="58.5,410.0 69.5,408.8 79.5,403.2 89.5,401.2 104.5,398.0 119.5,395.0 129.5,392.0 147.0,385.5 159.5,378.8 169.5,376.2 182.0,372.5 194.5,366.2 207.0,360.5 219.5,358.8 237.5,350.0 250.0,345.0 262.5,340.5 275.0,337.0 287.5,332.5 300.0,328.8 310.0,324.5 320.0,317.5 330.0,313.0 342.5,312.5 355.0,309.5 365.0,306.2 377.5,303.8 387.5,303.2 400.0,299.5 410.0,293.8 427.5,288.8 445.0,282.5 462.5,277.5 477.5,273.8 490.0,268.8 501.5,265.8" fill="none" stroke="#ff0000" stroke-width="4.6" stroke-linejoin="round" stroke-linecap="round" />
<path d="M501.5 47.5V449.5" stroke="#484848" stroke-width="1"/>
<text x="506.1" y="268.8" font-size="7.5" textLength="17" lengthAdjust="spacingAndGlyphs" style="fill:#ff2020">7.189</text>
<rect x="47.5" y="47.5" width="681.0" height="402.0" fill="none" stroke="#707070" stroke-width="1"/>
<path d="M138.5 449.5v4 M252.5 449.5v4 M365.5 449.5v4 M478.5 449.5v4 M592.5 449.5v4 M706.5 449.5v4 M47.5 396.5h-4 M47.5 314.5h-4 M47.5 232.5h-4 M47.5 151.5h-4 M47.5 69.5h-4" stroke="#707070" stroke-width="1" fill="none"/>
<text x="138.0" y="464.9" font-size="7.5" font-weight="bold" text-anchor="middle">90</text>
<text x="251.5" y="464.9" font-size="7.5" font-weight="bold" text-anchor="middle">100</text>
<text x="365.0" y="464.9" font-size="7.5" font-weight="bold" text-anchor="middle">110</text>
<text x="478.5" y="464.9" font-size="7.5" font-weight="bold" text-anchor="middle">120</text>
<text x="592.0" y="464.9" font-size="7.5" font-weight="bold" text-anchor="middle">130</text>
<text x="705.5" y="464.9" font-size="7.5" font-weight="bold" text-anchor="middle">140</text>
<text transform="translate(37.7 396.0) rotate(-90)" font-size="7.5" font-weight="bold" text-anchor="middle">4</text>
<text transform="translate(37.7 314.2) rotate(-90)" font-size="7.5" font-weight="bold" text-anchor="middle">6</text>
<text transform="translate(37.7 232.5) rotate(-90)" font-size="7.5" font-weight="bold" text-anchor="middle">8</text>
<text transform="translate(37.7 150.8) rotate(-90)" font-size="7.5" font-weight="bold" text-anchor="middle">10</text>
<text transform="translate(37.7 69.0) rotate(-90)" font-size="7.5" font-weight="bold" text-anchor="middle">12</text>
<text x="295.5" y="33.4" font-size="8.8" font-weight="bold" textLength="184" lengthAdjust="spacingAndGlyphs">Antarctic Sea Ice Extent Day 122 1978 to 2019</text>
<text transform="translate(21 295.8) rotate(-90)" font-size="7.3" textLength="95.6" lengthAdjust="spacingAndGlyphs">Ice Extent in millions of sq. km.</text>
<text x="369.7" y="481.9" font-size="7.3" textLength="35.6" lengthAdjust="spacingAndGlyphs">Day of Year</text>
<text x="241.6" y="490.2" font-size="7.3" textLength="293" lengthAdjust="spacingAndGlyphs" xml:space="preserve">Today's Ice Extent: 7.189  - Record for the day: 10.381 which occurred on 2015 5 2  - Mean: 8.68</text>
<text x="12.5" y="482.4" font-size="14">http://sunshinehours.wordpress.com</text>
<rect x="598.5" y="356.5" width="130" height="93" fill="#fff" stroke="#606060" stroke-width="1"/>
<path d="M604.6 364.80H617.4" stroke="#ff0000" stroke-width="3.4" stroke-linecap="round" fill="none"/>
<text x="623.7" y="367.50" font-size="7.6" textLength="15.3" lengthAdjust="spacingAndGlyphs">2019</text>
<path d="M604.6 373.25h2.2m6.6 0h2.2" stroke="#000" stroke-width="2.3" stroke-linecap="round" fill="none"/>
<text x="623.7" y="375.95" font-size="7.6" textLength="52.1" lengthAdjust="spacingAndGlyphs">Mean 1981-2010</text>
<path d="M604.6 381.70H617.4" stroke="#d3d3d3" stroke-width="8.6" stroke-linecap="round" fill="none"/>
<text x="623.7" y="384.40" font-size="7.6" textLength="101.3" lengthAdjust="spacingAndGlyphs">1 Standard Deviation From Mean</text>
<path d="M604.6 390.15H617.4" stroke="#000" stroke-width="2.2" stroke-linecap="round" fill="none"/>
<text x="623.7" y="392.85" font-size="7.6" textLength="15.3" lengthAdjust="spacingAndGlyphs">2018</text>
<path d="M604.6 398.60H617.4" stroke="#ffa500" stroke-width="2.2" stroke-linecap="round" fill="none"/>
<text x="623.7" y="401.30" font-size="7.6" textLength="15.3" lengthAdjust="spacingAndGlyphs">2017</text>
<path d="M604.6 407.05H617.4" stroke="#0000ff" stroke-width="2.2" stroke-linecap="round" fill="none"/>
<text x="623.7" y="409.75" font-size="7.6" textLength="15.3" lengthAdjust="spacingAndGlyphs">2016</text>
<path d="M604.6 415.50H617.4" stroke="#00ff00" stroke-width="2.2" stroke-linecap="round" fill="none"/>
<text x="623.7" y="418.20" font-size="7.6" textLength="15.3" lengthAdjust="spacingAndGlyphs">2015</text>
<path d="M604.6 423.95H617.4" stroke="#a020f0" stroke-width="2.2" stroke-linecap="round" fill="none"/>
<text x="623.7" y="426.65" font-size="7.6" textLength="15.3" lengthAdjust="spacingAndGlyphs">2014</text>
<path d="M604.6 432.40H617.4" stroke="#ffff00" stroke-width="2.2" stroke-linecap="round" fill="none"/>
<text x="623.7" y="435.10" font-size="7.6" textLength="15.3" lengthAdjust="spacingAndGlyphs">2013</text>
<path d="M604.6 440.85H617.4" stroke="#a8a8a8" stroke-width="1.2" stroke-linecap="round" fill="none"/>
<text x="623.7" y="443.55" font-size="7.6" textLength="51.0" lengthAdjust="spacingAndGlyphs">Every Other Year</text>
</svg></body></html>
